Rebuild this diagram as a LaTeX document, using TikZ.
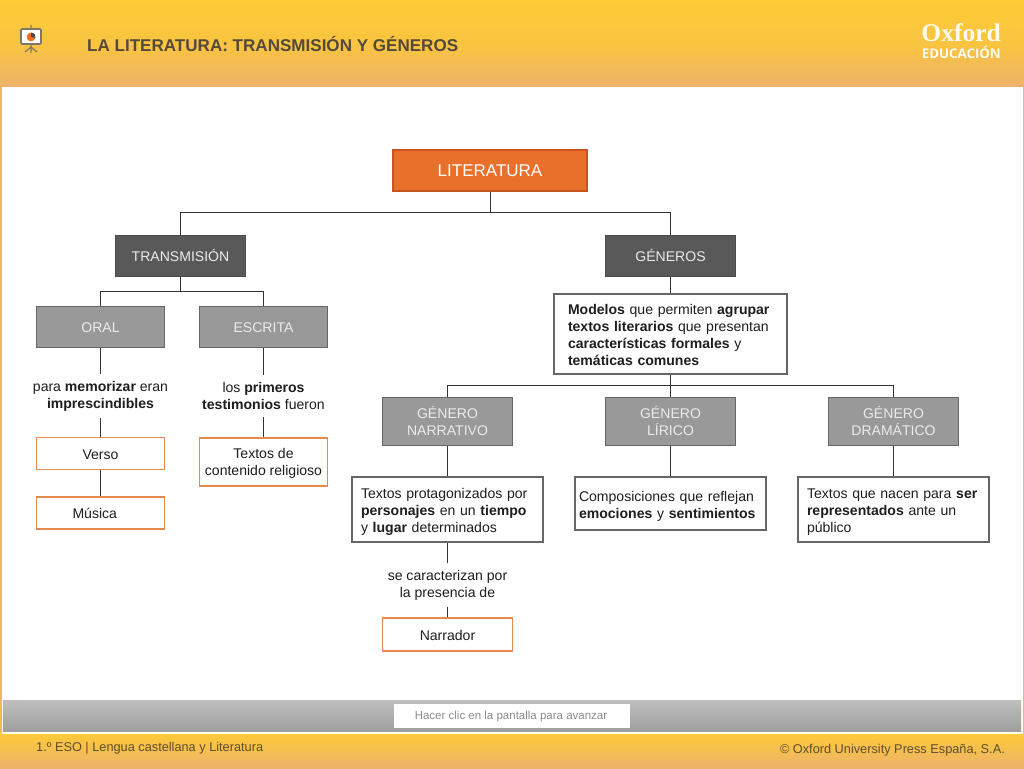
\documentclass[tikz,border=0pt]{standalone}
\usepackage{fontspec}
\setmainfont{Liberation Sans}
\newfontfamily\logofont{Liberation Serif}
\newfontfamily\logosans{Open Sans}
\definecolor{topY}{HTML}{FDCB36}
\definecolor{midY}{HTML}{F9C440}
\definecolor{botY}{HTML}{EDB26C}
\definecolor{titleC}{HTML}{54493A}
\definecolor{footC}{HTML}{5E4E2C}
\definecolor{orangeF}{HTML}{E9702A}
\definecolor{orangeD}{HTML}{C8541F}
\definecolor{orangeL}{HTML}{E58A4E}
\definecolor{darkF}{HTML}{595959}
\definecolor{darkD}{HTML}{4A4A4A}
\definecolor{grayF}{HTML}{999999}
\definecolor{grayD}{HTML}{666666}
\definecolor{lineC}{HTML}{333333}
\definecolor{textC}{HTML}{1E1E1E}
\newcommand{\pushdown}[1]{\rule{0pt}{#1pt}}
\tikzset{
  x=1pt,y=-1pt,
  every node/.style={font=\fontsize{14.05}{17}\selectfont,text=textC,inner sep=0pt,align=center},
  mainbox/.style={draw=orangeD,fill=orangeF,line width=2pt,minimum width=194,minimum height=41,text=white,font=\fontsize{17}{20}\selectfont},
  darkbox/.style={draw=darkD,fill=darkF,line width=1pt,minimum width=130,minimum height=41,text=white!92!black},
  graybox/.style={draw=grayD,fill=grayF,line width=1pt,minimum width=128,text=white!92!black},
  termbox/.style={draw=orangeL,fill=white,line width=1.4pt,minimum width=128},
  infobox/.style={draw=grayD,fill=white,line width=1.2pt,align=left},
  conn/.style={draw=lineC,line width=1.2pt},
  linktext/.style={inner ysep=7pt},
}
\begin{document}
\begin{tikzpicture}
\useasboundingbox (0,0) rectangle (1024,768);
% backdrop
\fill[top color=topY,bottom color=botY,middle color=midY] (0,0) rectangle (1024,88);
\fill[top color=topY,bottom color=botY] (0,732) rectangle (1024,768);
\fill[botY!70!topY] (0,88) rectangle (1024,732);
\fill[white] (2,87) rectangle (1023,700);
\fill[white!92!topY] (2,700) rectangle (1023,734);
\fill[top color=black!25,bottom color=black!38] (3,700) rectangle (1021,731);
\fill[white] (394,704) rectangle (630,727.5);
\node[text=black!45,font=\fontsize{11.5}{14}\selectfont] (hint) at (511,716.5) {Hacer clic en la pantalla para avanzar};
% easel icon
\draw[titleC!75,line width=1.2pt] (31,25) -- (31,53) (31,47) -- (25,52) (31,47) -- (37,52);
\fill[white,draw=titleC!75,line width=1.6pt,rounded corners=1pt] (21,29) rectangle (41,44);
\fill[orangeF] (31,37) circle (4.4);
\fill[black!70] (31,37) -- (31,32.6) arc[start angle=-90,end angle=10,radius=4.4,y=-1pt] -- cycle;
% header and footer text
\node[anchor=west,text=titleC,font=\bfseries\fontsize{17.05}{20}\selectfont] (title) at (87,44.5) {LA LITERATURA: TRANSMISIÓN Y GÉNEROS};
\node[anchor=east,text=white!92!topY,font=\logofont\bfseries\fontsize{25.5}{26}\selectfont] (oxf) at (1001,32.5) {Oxford};
\node[anchor=east,text=white!92!topY,font=\logosans\bfseries\fontsize{13.3}{13.5}\selectfont] (edu) at (1001,52) {EDUCACIÓN};
\node[anchor=west,text=footC,font=\fontsize{12.75}{14}\selectfont] (course) at (36,748) {1.º ESO | Lengua castellana y Literatura};
\node[anchor=east,text=footC,font=\fontsize{12.75}{15}\selectfont] (copy) at (1005,750) {© Oxford University Press España, S.A.};
% nodes
\node[mainbox] (lit) at (490,170.5) {LITERATURA};
\node[darkbox] (trans) at (180.5,255.5) {TRANSMISIÓN};
\node[darkbox] (gen) at (670.5,255.5) {GÉNEROS};
\node[graybox,minimum height=41] (oral) at (100.5,327) {\pushdown{12}ORAL};
\node[graybox,minimum height=41] (esc) at (263.5,327) {\pushdown{12}ESCRITA};
\node[linktext] (oraltxt) at (100.5,396) {para \textbf{memorizar} eran\\\textbf{imprescindibles}};
\node[linktext] (esctxt) at (263.5,396) {los \textbf{primeros}\\\textbf{testimonios} fueron};
\node[termbox,minimum height=32] (verso) at (100.5,453.5) {\pushdown{13}Verso};
\node[termbox,minimum height=32,text width=128,align=left] (musica) at (100.5,513) {\hspace{36pt}Música};
\node[termbox,minimum height=48] (relig) at (263.5,462) {\pushdown{13}Textos de\\contenido religioso};
\node[infobox,minimum width=233,minimum height=80,inner xsep=14pt,text width=205] (model) at (670.5,334)
  {\pushdown{13}\textbf{Modelos} que permiten \textbf{agrupar}\\\textbf{textos literarios} que presentan\\\textbf{características formales} y\\\textbf{temáticas comunes}};
\node[graybox,minimum width=130,minimum height=48] (gn) at (447.5,421) {GÉNERO\\NARRATIVO};
\node[graybox,minimum width=130,minimum height=48] (gl) at (670.5,421) {GÉNERO\\LÍRICO};
\node[graybox,minimum width=130,minimum height=48] (gd) at (893.5,421) {GÉNERO\\DRAMÁTICO};
\node[infobox,minimum width=191,minimum height=65,inner xsep=9pt,text width=173] (tn) at (447.5,509.5)
  {\pushdown{14}Textos protagonizados por\\\textbf{personajes} en un \textbf{tiempo}\\y \textbf{lugar} determinados};
\node[infobox,minimum width=191,minimum height=53,inner xsep=4pt,text width=183] (tl) at (670.5,503.5)
  {\pushdown{16}Composiciones que reflejan\\\textbf{emociones} y \textbf{sentimientos}};
\node[infobox,minimum width=191,minimum height=65,inner xsep=9pt,text width=173] (td) at (893.5,509.5)
  {\pushdown{14}Textos que nacen para \textbf{ser}\\\textbf{representados} ante un\\público};
\node[linktext] (carac) at (447.5,585) {se caracterizan por\\la presencia de};
\node[termbox,minimum width=130,minimum height=33] (narr) at (447.5,634.5) {\pushdown{13}Narrador};
% bus points
\coordinate (busA) at (490.5,212.5);
\coordinate (busB) at (180.5,291.5);
\coordinate (busC) at (670.5,385.5);
% connectors
\draw[conn] (busA |- lit.south) -- (busA);
\draw[conn] (trans.north) |- (busA);
\draw[conn] (gen.north) |- (busA);
\draw[conn] (trans.south) -- (busB);
\draw[conn] (oral.north) |- (busB);
\draw[conn] (esc.north) |- (busB);
\draw[conn] (gen.south) -- (model.north);
\draw[conn] (model.south) -- (busC);
\draw[conn] (gn.north) |- (busC);
\draw[conn] (gl.north) -- (busC);
\draw[conn] (gd.north) |- (busC);
\draw[conn] (oral.south) -- (oraltxt.north);
\draw[conn] (oraltxt.south) -- (verso.north);
\draw[conn] (verso.south) -- (musica.north);
\draw[conn] (esc.south) -- (esctxt.north);
\draw[conn] (esctxt.south) -- (relig.north);
\draw[conn] (gn.south) -- (tn.north);
\draw[conn] (gl.south) -- (tl.north);
\draw[conn] (gd.south) -- (td.north);
\draw[conn] (tn.south) -- (carac.north);
\draw[conn] (carac.south) -- (narr.north);
\end{tikzpicture}
\end{document}
